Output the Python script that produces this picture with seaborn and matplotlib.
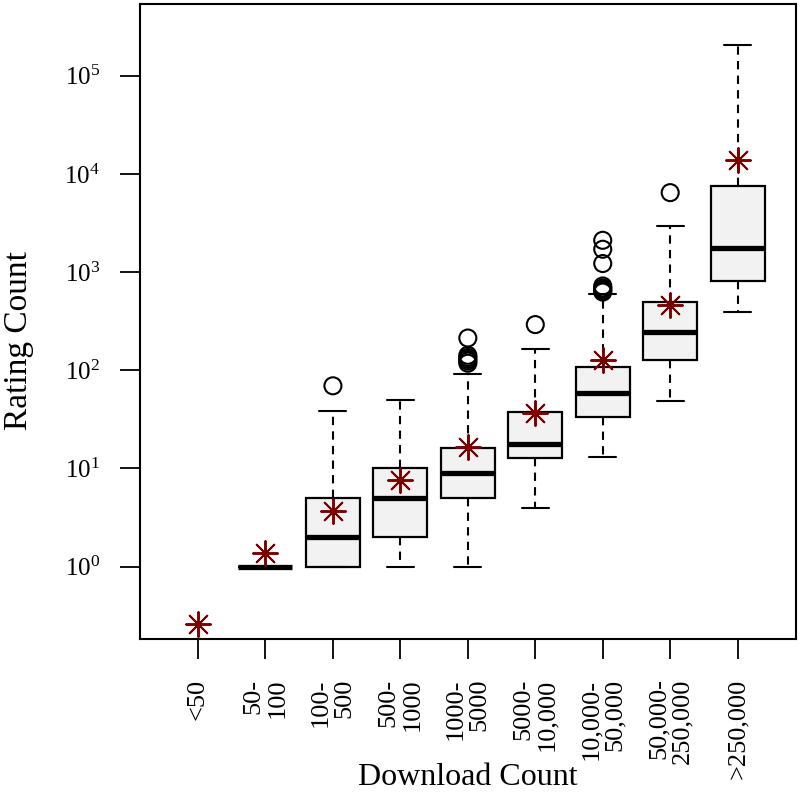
import numpy as np
import pandas as pd
import seaborn as sns
import matplotlib
matplotlib.use("Agg")
import matplotlib.pyplot as plt
from matplotlib.ticker import LogLocator, LogFormatterMathtext, NullLocator

# Categorias de downloads
categorias = ["<50", "50-\n100", "100-\n500", "500-\n1000", "1000-\n5000",
              "5000-\n10,000", "10,000-\n50,000", "50,000-\n250,000", ">250,000"]

# Estatísticas das caixas (categorias 1..8; "<50" não tem caixa)
posicoes_caixa = [1, 2, 3, 4, 5, 6, 7, 8]
bigode_inf = [1, 1, 1, 1, 4, 13, 49, 396]
q1 = [1, 1, 2, 5, 12.8, 33.6, 126, 811]
mediana = [1, 2, 5, 8.9, 17.9, 58.6, 248, 1757]
q3 = [1, 5, 10, 16.3, 38, 107, 493, 7510]
bigode_sup = [1, 38.5, 50.3, 92, 164, 597, 2944, 206500]

# Pontos discrepantes por categoria
outliers = {
    2: [69.5],
    4: [213, 142, 135, 129, 124, 118],
    5: [292],
    6: [2107, 1708, 1222, 722, 690, 670, 650, 626],
    7: [6443],
}

# Médias (asteriscos)
medias = [0.26, 1.38, 3.67, 7.7, 16.6, 36.7, 127, 457, 13970]

sns.set_style("ticks")
plt.rcParams["font.family"] = ["Liberation Serif", "DejaVu Serif"]
plt.rcParams["mathtext.fontset"] = "stix"
plt.rcParams["text.color"] = "black"
plt.rcParams["axes.labelcolor"] = "black"
plt.rcParams["xtick.color"] = "black"
plt.rcParams["ytick.color"] = "black"

fig = plt.figure(figsize=(8, 8), dpi=100)
ax = fig.add_axes([0.1744, 0.2013, 0.8206, 0.7937])

stats = []
for i in range(len(posicoes_caixa)):
    stats.append({
        "whislo": bigode_inf[i], "q1": q1[i], "med": mediana[i],
        "q3": q3[i], "whishi": bigode_sup[i], "fliers": [],
    })

ax.bxp(stats, positions=posicoes_caixa, widths=0.8, capwidths=0.4,
       patch_artist=True, showfliers=False,
       boxprops=dict(facecolor="#f2f2f2", edgecolor="black", linewidth=1.6),
       medianprops=dict(color="black", linewidth=3.8, solid_capstyle="butt"),
       whiskerprops=dict(color="black", linewidth=1.5, linestyle=(0, (4, 3))),
       capprops=dict(color="black", linewidth=1.5))

df_out = pd.DataFrame(
    [(pos, v) for pos, vals in outliers.items() for v in vals],
    columns=["pos", "valor"])
sns.scatterplot(data=df_out, x="pos", y="valor", ax=ax, marker="o", s=150,
                facecolor="none", edgecolor="black", linewidth=1.5, zorder=3)

df_med = pd.DataFrame({"pos": np.arange(len(categorias)), "media": medias})
sns.scatterplot(data=df_med, x="pos", y="media", ax=ax, marker=(8, 2, 0), s=320,
                color="#7a0000", edgecolor="#7a0000", linewidth=1.4, zorder=4)

ax.set_yscale("log")
ax.set_ylim(10 ** -0.736, 10 ** 5.73)
ax.set_xlim(-0.867, 8.865)
ax.yaxis.set_major_locator(LogLocator(base=10, numticks=12))
ax.yaxis.set_major_formatter(LogFormatterMathtext())
ax.yaxis.set_minor_locator(NullLocator())

ax.set_xticks(np.arange(len(categorias)))
ax.set_xticklabels(categorias, rotation=90, va="top", ha="center",
                   multialignment="right", fontsize=19, linespacing=1.1)
ax.tick_params(axis="y", labelsize=18, length=14.4, width=1.3, pad=14)
ax.tick_params(axis="x", length=14.4, width=1.3, pad=14)

for s in ax.spines.values():
    s.set_linewidth(1.5)
    s.set_color("black")

ax.set_xlabel("Download Count", fontsize=23)
ax.set_ylabel("Rating Count", fontsize=24)
ax.xaxis.set_label_coords(0.5, -0.196)
ax.yaxis.set_label_coords(-0.16, 0.47)

plt.savefig("out.png", dpi=100)
plt.close()
